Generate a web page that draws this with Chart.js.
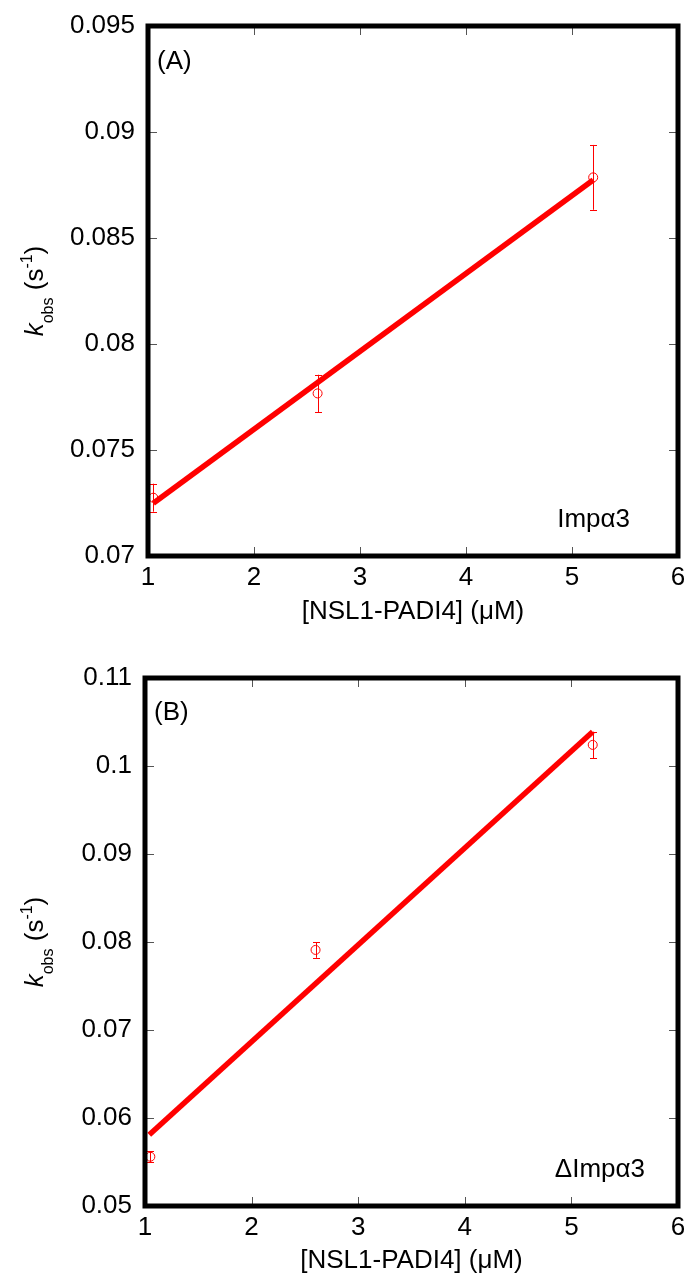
<!DOCTYPE html>
<html><head><meta charset="utf-8">
<script src="https://cdn.jsdelivr.net/npm/chart.js@4.4.0/dist/chart.umd.min.js"></script>
<style>
body{margin:0;background:#fff;width:684px;height:1277px;overflow:hidden;position:relative}
.wrap{position:absolute;left:0;width:684px}
</style></head><body>
<div class="wrap" style="top:0;height:640px"><canvas id="cA" width="684" height="640"></canvas></div>
<div class="wrap" style="top:640px;height:637px"><canvas id="cB" width="684" height="637"></canvas></div>
<script>
// ---- data ----
const xTicks = [1, 2, 3, 4, 5, 6];
const xTickLabels = ['1', '2', '3', '4', '5', '6'];
const xTitle = '[NSL1-PADI4] (\u03BCM)';

const concA = [1.05, 2.6, 5.2];
const kobsA = [0.07275, 0.07767, 0.08786];
const errA = [0.00066, 0.00088, 0.00153];
const fitXA = [1.05, 5.2];
const fitYA = [0.07249, 0.08774];
const yTicksA = [0.07, 0.075, 0.08, 0.085, 0.09, 0.095];
const yTickLabelsA = ['0.07', '0.075', '0.08', '0.085', '0.09', '0.095'];

const concB = [1.05, 2.6, 5.2];
const kobsB = [0.0556, 0.0791, 0.1024];
const errB = [0.0006, 0.0009, 0.0015];
const fitXB = [1.04, 5.2];
const fitYB = [0.0581, 0.1039];
const yTicksB = [0.05, 0.06, 0.07, 0.08, 0.09, 0.1, 0.11];
const yTickLabelsB = ['0.05', '0.06', '0.07', '0.08', '0.09', '0.1', '0.11'];

// ---- drawing ----
const FONT = '"Liberation Sans", Arial, Helvetica, sans-serif';
const RED = '#ff0000';

const deco = {
  id: 'deco',
  afterDatasetsDraw(chart, args, o) {
    const ctx = chart.ctx, xs = chart.scales.x, ys = chart.scales.y;
    ctx.save();
    ctx.strokeStyle = RED; ctx.lineWidth = 1;
    o.conc.forEach((c, i) => {
      const px = Math.round(xs.getPixelForValue(c)) + 0.5;
      const y1 = ys.getPixelForValue(o.kobs[i] + o.err[i]);
      const y2 = ys.getPixelForValue(o.kobs[i] - o.err[i]);
      ctx.beginPath();
      ctx.moveTo(px, y1); ctx.lineTo(px, y2);
      ctx.moveTo(px - 3.5, Math.round(y1) + 0.5); ctx.lineTo(px + 3.5, Math.round(y1) + 0.5);
      ctx.moveTo(px - 3.5, Math.round(y2) + 0.5); ctx.lineTo(px + 3.5, Math.round(y2) + 0.5);
      ctx.stroke();
    });
    ctx.restore();
  },
  afterDraw(chart, args, o) {
    const ctx = chart.ctx, a = chart.chartArea, xs = chart.scales.x, ys = chart.scales.y;
    ctx.save();
    // inner ticks
    ctx.strokeStyle = '#555'; ctx.lineWidth = 1;
    ctx.beginPath();
    xTicks.forEach(v => {
      const px = Math.round(xs.getPixelForValue(v)) + 0.5;
      ctx.moveTo(px, a.bottom); ctx.lineTo(px, a.bottom - 9);
      ctx.moveTo(px, a.top); ctx.lineTo(px, a.top + 9);
    });
    o.yTicks.forEach(v => {
      const py = Math.round(ys.getPixelForValue(v)) + 0.5;
      ctx.moveTo(a.left, py); ctx.lineTo(a.left + 9, py);
      ctx.moveTo(a.right, py); ctx.lineTo(a.right - 9, py);
    });
    ctx.stroke();
    // frame
    ctx.strokeStyle = '#000'; ctx.lineWidth = 5;
    ctx.strokeRect(a.left, a.top, a.right - a.left, a.bottom - a.top);
    // texts
    ctx.fillStyle = '#000';
    ctx.font = '26px ' + FONT;
    ctx.textBaseline = 'middle';
    ctx.textAlign = 'left';
    ctx.fillText(o.panel, a.left + 9, a.top + o.panelDy);
    ctx.textAlign = 'right';
    ctx.fillText(o.tag, o.tagRight, a.bottom - o.tagDy);
    ctx.textAlign = 'center';
    ctx.fillText(xTitle, (a.left + a.right) / 2, a.bottom + o.xTitleDy);
    // y title: k_obs (s^-1)
    const cy = (a.top + a.bottom) / 2;
    const parts = [
      { t: 'k', f: 'italic 26px ' + FONT, dy: 0 },
      { t: 'obs', f: '16px ' + FONT, dy: 10 },
      { t: ' (s', f: '26px ' + FONT, dy: 0 },
      { t: '-1', f: '16px ' + FONT, dy: -11 },
      { t: ')', f: '26px ' + FONT, dy: 0 }
    ];
    let total = 0;
    parts.forEach(p => { ctx.font = p.f; p.w = ctx.measureText(p.t).width; total += p.w; });
    ctx.translate(43, cy);
    ctx.rotate(-Math.PI / 2);
    ctx.textAlign = 'left'; ctx.textBaseline = 'alphabetic';
    let x = -total / 2;
    parts.forEach(p => { ctx.font = p.f; ctx.fillText(p.t, x, p.dy); x += p.w; });
    ctx.restore();
  }
};

function makeChart(id, H, area, d) {
  const tickFont = { family: FONT, size: 26 };
  return new Chart(document.getElementById(id), {
    type: 'scatter',
    data: {
      datasets: [
        {
          data: d.fitX.map((x, i) => ({ x, y: d.fitY[i] })),
          showLine: true, borderColor: RED, borderWidth: 5.5, pointRadius: 0, fill: false,
          borderCapStyle: 'butt'
        },
        {
          data: d.conc.map((x, i) => ({ x, y: d.kobs[i] })),
          showLine: false, pointStyle: 'circle', pointRadius: 4.5,
          borderColor: RED, backgroundColor: 'rgba(0,0,0,0)', pointBorderWidth: 1, borderWidth: 1
        }
      ]
    },
    options: {
      responsive: false, animation: false, devicePixelRatio: 1,
      layout: { padding: { top: area.top, right: 684 - area.right, left: 0, bottom: 0 } },
      plugins: {
        legend: { display: false }, tooltip: { enabled: false },
        deco: d.deco
      },
      scales: {
        x: {
          type: 'linear', min: 1, max: 6,
          grid: { display: false, drawTicks: false }, border: { display: false },
          afterBuildTicks: s => { s.ticks = xTicks.map(v => ({ value: v })); },
          ticks: {
            color: '#000', font: tickFont, padding: 6, maxRotation: 0, autoSkip: false,
            callback: v => xTickLabels[xTicks.indexOf(v)]
          },
          afterFit: s => { s.height = H - area.bottom; s.paddingLeft = 0; s.paddingRight = 0; }
        },
        y: {
          type: 'linear', min: d.yTicks[0], max: d.yTicks[d.yTicks.length - 1],
          grid: { display: false, drawTicks: false }, border: { display: false },
          afterBuildTicks: s => { s.ticks = d.yTicks.map(v => ({ value: v })); },
          ticks: {
            color: '#000', font: tickFont, padding: 13, autoSkip: false,
            callback: (v, i) => d.yTickLabels[i]
          },
          afterFit: s => { s.width = area.left; s.paddingTop = 0; s.paddingBottom = 0; }
        }
      }
    },
    plugins: [deco]
  });
}

makeChart('cA', 640, { top: 26, bottom: 556, left: 148, right: 678 }, {
  conc: concA, kobs: kobsA, fitX: fitXA, fitY: fitYA, yTicks: yTicksA, yTickLabels: yTickLabelsA,
  deco: { conc: concA, kobs: kobsA, err: errA, yTicks: yTicksA, panel: '(A)', panelDy: 36,
          tag: 'Imp\u03B13', tagRight: 630, tagDy: 36, xTitleDy: 56 }
});
makeChart('cB', 637, { top: 38, bottom: 566, left: 145, right: 678 }, {
  conc: concB, kobs: kobsB, fitX: fitXB, fitY: fitYB, yTicks: yTicksB, yTickLabels: yTickLabelsB,
  deco: { conc: concB, kobs: kobsB, err: errB, yTicks: yTicksB, panel: '(B)', panelDy: 35,
          tag: '\u0394Imp\u03B13', tagRight: 645, tagDy: 36, xTitleDy: 55 }
});
</script>
</body></html>
